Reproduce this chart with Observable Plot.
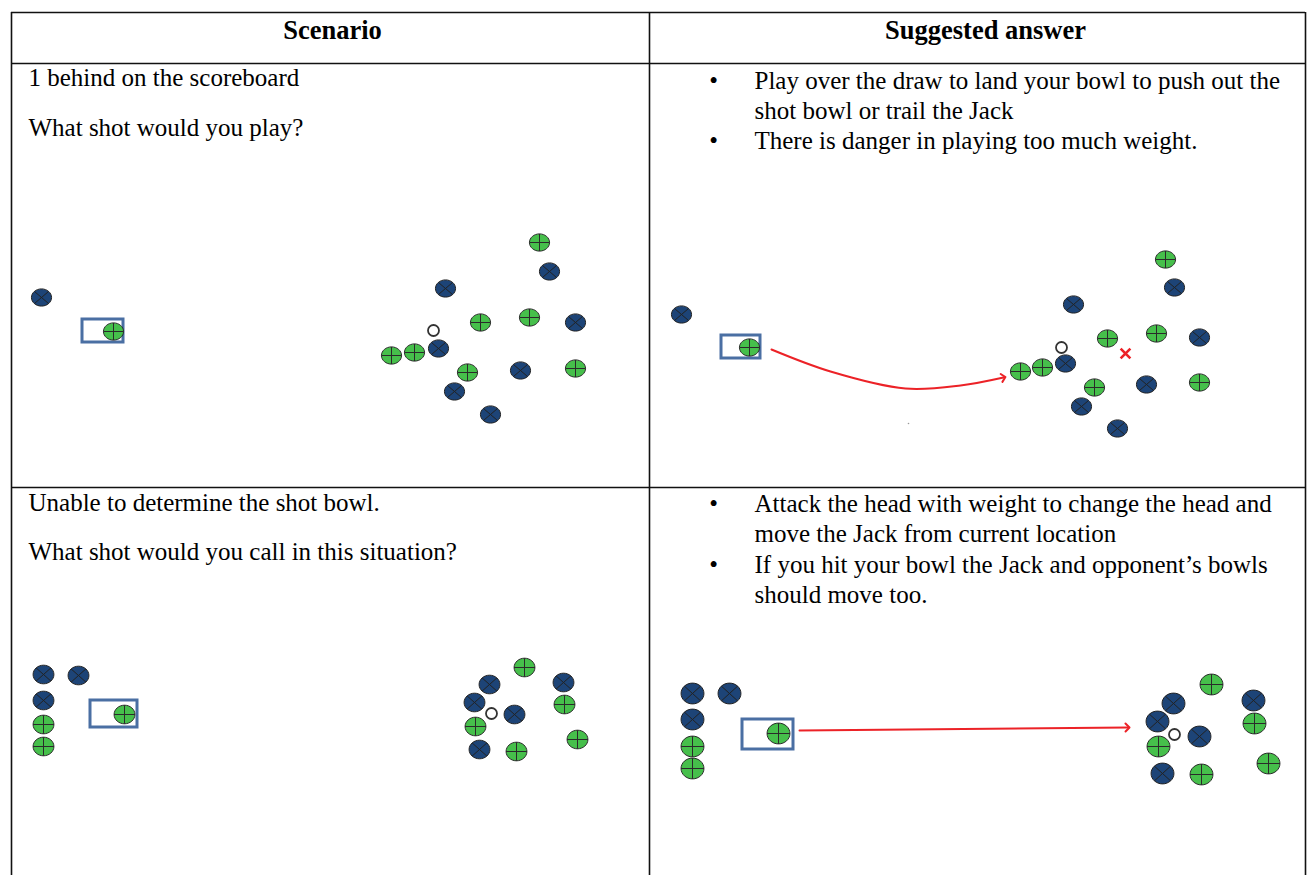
<!DOCTYPE html>
<html><head><meta charset="utf-8">
<script src="https://cdn.jsdelivr.net/npm/d3@7"></script>
<script src="https://cdn.jsdelivr.net/npm/@observablehq/plot@0.6"></script>
<style>html,body{margin:0;padding:0;background:#fff;overflow:hidden}</style>
</head><body><div id="chart"></div>
<script>
// ---- table grid ----
const hLines = [{y:12},{y:63},{y:487}];
const vLines = [{x:11},{x:649},{x:1305}];
// ---- texts ----
const headers = [{x:332,y:30,t:"Scenario"},{x:985,y:30,t:"Suggested answer"}];
const leftTexts = [
  {x:28,y:77,t:"1 behind on the scoreboard"},
  {x:28,y:127,t:"What shot would you play?"},
  {x:28,y:502,t:"Unable to determine the shot bowl."},
  {x:28,y:551,t:"What shot would you call in this situation?"}
];
const rightTexts = [
  {x:754,y:80,t:"Play over the draw to land your bowl to push out the"},
  {x:754,y:110,t:"shot bowl or trail the Jack"},
  {x:754,y:140,t:"There is danger in playing too much weight."},
  {x:754,y:503,t:"Attack the head with weight to change the head and"},
  {x:754,y:533,t:"move the Jack from current location"},
  {x:754,y:564,t:"If you hit your bowl the Jack and opponent\u2019s bowls"},
  {x:754,y:594,t:"should move too."}
];
const bullets = [{x:713,y:80},{x:713,y:140},{x:713,y:503},{x:713,y:564}];
// ---- panel 1 (scenario, row 1) ----
const p1Blue  = [[41,297],[549,271],[445,288],[575,322],[438,348],[520,370],[454,391],[490,414]];
const p1Green = [[113,331],[539,242],[480,322],[529,317],[414,352],[391,355],[467,372],[575,368]];
const p1Jack  = [[433,330]];
const p1Box   = [{x1:82,x2:123,y1:319,y2:342}];
// ---- panel 2 (answer, row 1) ----
const p2Blue  = [[681,314],[1174,287],[1073,304],[1199,337],[1065,363],[1146,384],[1081,406],[1117,428]];
const p2Green = [[749,347],[1165,259],[1107,338],[1156,333],[1042,367],[1020,371],[1094,387],[1199,382]];
const p2Jack  = [[1061,347]];
const p2Box   = [{x1:721,x2:760,y1:335,y2:358}];
const p2Mark  = [[1125,353]];
const p2Path  = [[771,349],[830,371],[905,388],[960,385],[1003,377]];
const p2Speck = [[908,423]];
// ---- panel 3 (scenario, row 2) ----
const p3Blue  = [[43,674],[78,675],[43,700],[489,684],[563,682],[474,702],[514,714],[479,749]];
const p3Green = [[43,724],[43,746],[124,714],[524,667],[564,704],[475,726],[577,739],[516,751]];
const p3Jack  = [[491,713]];
const p3Box   = [{x1:90,x2:137,y1:700,y2:727}];
// ---- panel 4 (answer, row 2) ----
const p4Blue  = [[692,693],[729,693],[692,719],[1173,703],[1253,700],[1157,721],[1199,736],[1162,773]];
const p4Green = [[692,746],[692,768],[778,733],[1211,684],[1254,723],[1158,746],[1268,763],[1201,774]];
const p4Jack  = [[1174,734]];
const p4Box   = [{x1:742,x2:793,y1:719,y2:749}];
const p4Path  = [[799,730],[1127,727]];

const BLUE="#1d4477", GREEN="#46bf4b", BOXC="#4a6fa3", RED="#ec2227";

function bowlSymbol(cross, aspect){
  return {draw(ctx, size){
    const r = Math.sqrt(size/Math.PI), rx=r*aspect, ry=r, k=0.5523, kx=rx*k, ky=ry*k;
    ctx.moveTo(rx,0);
    ctx.bezierCurveTo(rx,ky,kx,ry,0,ry);
    ctx.bezierCurveTo(-kx,ry,-rx,ky,-rx,0);
    ctx.bezierCurveTo(-rx,-ky,-kx,-ry,0,-ry);
    ctx.bezierCurveTo(kx,-ry,rx,-ky,rx,0);
    ctx.closePath();
    if (cross==="plus"){
      ctx.moveTo(-rx,0); ctx.lineTo(rx,0);
      ctx.moveTo(0,-ry); ctx.lineTo(0,ry);
    } else {
      const c=Math.SQRT1_2;
      ctx.moveTo(-rx*c,-ry*c); ctx.lineTo(rx*c,ry*c);
      ctx.moveTo(-rx*c,ry*c); ctx.lineTo(rx*c,-ry*c);
    }
  }};
}
function bowls(blue, green, r, aspect){
  return [
    Plot.dot(blue,{x:d=>d[0],y:d=>d[1],r,symbol:bowlSymbol("x",aspect),fill:BLUE,stroke:"#222",strokeWidth:1}),
    Plot.dot(green,{x:d=>d[0],y:d=>d[1],r,symbol:bowlSymbol("plus",aspect),fill:GREEN,stroke:"#2a2a2a",strokeWidth:1})
  ];
}
function box(b){ return Plot.rect(b,{x1:"x1",x2:"x2",y1:"y1",y2:"y2",fill:"white",stroke:BOXC,strokeWidth:3}); }
function jack(j){ return Plot.dot(j,{x:d=>d[0],y:d=>d[1],r:5.5,fill:"white",stroke:"#333",strokeWidth:1.8}); }

const FONT="Liberation Serif, Times New Roman, serif", FS=25;
const chart = Plot.plot({
  width:1307, height:875, margin:0,
  x:{domain:[0,1307],range:[0,1307],axis:null},
  y:{domain:[0,875],range:[0,875],axis:null},
  style:{background:"white",fontFamily:FONT},
  marks:[
    Plot.ruleY(hLines,{y:"y",x1:11,x2:1305,stroke:"#111",strokeWidth:1.6}),
    Plot.ruleX(vLines,{x:"x",y1:12,y2:875,stroke:"#111",strokeWidth:1.6}),
    Plot.text(headers,{x:"x",y:"y",text:"t",fontFamily:FONT,fontSize:26.5,fontWeight:"bold",fill:"#000"}),
    Plot.text(leftTexts,{x:"x",y:"y",text:"t",textAnchor:"start",fontFamily:FONT,fontSize:FS,fill:"#000"}),
    Plot.text(rightTexts,{x:"x",y:"y",text:"t",textAnchor:"start",fontFamily:FONT,fontSize:FS,fill:"#000"}),
    Plot.text(bullets,{x:"x",y:"y",text:()=>"\u2022",fontFamily:FONT,fontSize:FS,fill:"#000"}),
    // panel 1
    box(p1Box), ...bowls(p1Blue,p1Green,8.6,1.17), jack(p1Jack),
    // panel 2
    box(p2Box),
    Plot.line(p2Path,{x:d=>d[0],y:d=>d[1],curve:"catmull-rom",stroke:RED,strokeWidth:2,markerEnd:"arrow"}),
    ...bowls(p2Blue,p2Green,8.6,1.17), jack(p2Jack),
    Plot.dot(p2Mark,{x:d=>d[0],y:d=>d[1],symbol:"times",r:4.5,stroke:RED,strokeWidth:2.6}),
    Plot.dot(p2Speck,{x:d=>d[0],y:d=>d[1],r:0.8,fill:"#999"}),
    // panel 3
    box(p3Box), ...bowls(p3Blue,p3Green,9.3,1.12), jack(p3Jack),
    // panel 4
    box(p4Box),
    Plot.line(p4Path,{x:d=>d[0],y:d=>d[1],stroke:RED,strokeWidth:2,markerEnd:"arrow"}),
    ...bowls(p4Blue,p4Green,10.4,1.1), jack(p4Jack)
  ]
});
document.getElementById("chart").appendChild(chart);
</script></body></html>
